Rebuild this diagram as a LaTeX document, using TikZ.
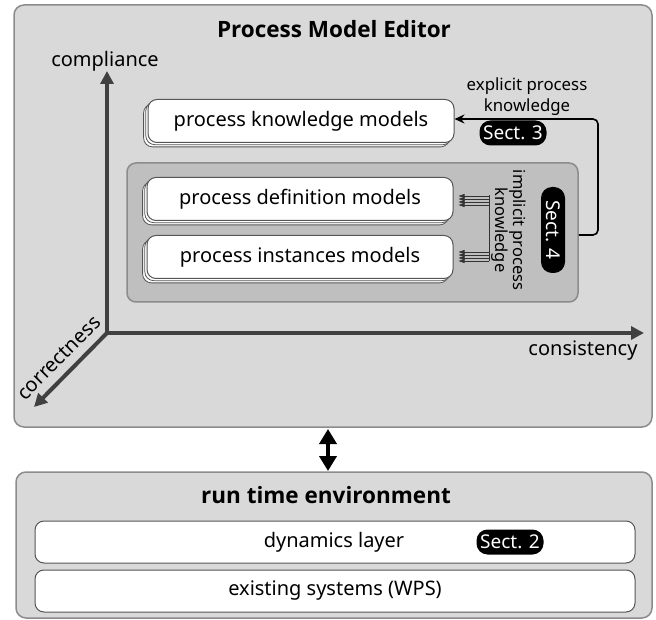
\documentclass[tikz,border=0pt]{standalone}
\usepackage{fontspec}
\setmainfont{Noto Sans}
\newfontfamily\headfont{Open Sans}
\usetikzlibrary{arrows.meta,shadows}

\definecolor{panelfill}{HTML}{D9D9D9}
\definecolor{panelline}{HTML}{8C8C8C}
\definecolor{innerfill}{HTML}{BFBFBF}
\definecolor{axisgray}{HTML}{404040}
\definecolor{boxline}{HTML}{555555}

\tikzset{
  panel/.style={draw=panelline, fill=panelfill, line width=1.5pt, rounded corners=10pt, inner sep=0pt},
  innerpanel/.style={draw=panelline, fill=innerfill, line width=1.5pt, rounded corners=9pt, inner sep=0pt},
  layer/.style={draw=boxline, fill=white, line width=1pt, rounded corners=9pt, inner sep=0pt,
    minimum width=600pt, minimum height=42pt},
  model/.style={draw=boxline, fill=white, line width=1pt, rounded corners=9pt, inner sep=0pt,
    minimum width=306pt, minimum height=43pt, font=\fontsize{20}{24}\selectfont,
    double copy shadow={shadow xshift=-2.2pt, shadow yshift=-2.2pt, draw=boxline, fill=white, line width=0.8pt}},
  heading/.style={font=\headfont\bfseries\fontsize{22.5}{26}\selectfont},
  label/.style={font=\fontsize{20}{24}\selectfont},
  sect/.style={fill=black, text=white, rounded corners=11pt, inner sep=0pt,
    minimum width=67pt, minimum height=25pt, font=\fontsize{19}{22}\selectfont},
  axis/.style={draw=axisgray, line width=4pt, -{Triangle[length=13pt,width=13pt]}},
  link/.style={draw=black, line width=1.6pt, rounded corners=5pt, -{Stealth[length=10pt,width=9pt]}},
  thin/.style={draw=black!80, line width=0.6pt},
  tiny/.style={draw=black!80, line width=0.6pt, -{Triangle[length=6pt,width=4pt]}},
  dbl/.style={draw=black, line width=4pt, {Triangle[length=15pt,width=17pt]}-{Triangle[length=15pt,width=17pt]}}
}

\begin{document}
\begin{tikzpicture}[x=1pt, y=-1pt]
\useasboundingbox (0,0) rectangle (656,620);

% upper panel: process model editor
\node[panel, minimum width=638pt, minimum height=422pt] (pme) at (333,216) {};
\node[heading] (pmetitle) at (334,29) {Process Model Editor};

% three quality axes
\coordinate (origin) at (107,333);
\coordinate (ytip) at (107,71);
\coordinate (xtip) at (644,333);
\coordinate (ztip) at (34,407);
\draw[axis] (origin) -- (ytip);
\draw[axis] (origin) -- (xtip);
\draw[axis] (origin) -- (ztip);
\node[label] (compl) at (105,61) {compliance};
\node[label] (consist) at (583,351) {consistency};
\node[label, rotate=45, inner sep=0pt] (correct) at (59,358) {correctness};

% explicit knowledge
\node[model] (know) at (301,121) {process knowledge models};
\node[label, align=center, font=\fontsize{16.8}{21}\selectfont] (explicit) at (527,97) {explicit process\\knowledge};
\node[sect] (s3) at (513,133) {Sect. 3};

% implicit knowledge
\node[innerpanel, minimum width=451pt, minimum height=139pt] (inner) at (352.5,232.5) {};
\node[model] (def) at (300,199) {process definition models};
\node[model] (inst) at (300,257) {process instances models};
\node[label, rotate=-90, align=center, font=\fontsize{16.5}{18}\selectfont] (implicit) at (509,230) {implicit process\\knowledge};
\node[sect, rotate=-90, minimum width=86pt, minimum height=24pt] (s4) at (553,230) {Sect. 4};

% bundled arrows into the two models
\coordinate (bt) at (489,195.5);
\coordinate (bb) at (489,261);
\draw[thin] (bt) -- (bb);
\foreach \d [count=\i] in {-4.5,-1.5,1.5,4.5} {
  \coordinate (bd\i) at (489,{200.5+\d});
  \coordinate (bi\i) at (489,{256.5+\d});
  \draw[tiny, shorten >=5pt] (bd\i) -- (def.east |- bd\i);
  \draw[tiny, shorten >=5pt] (bi\i) -- (inst.east |- bi\i);
}

% from implicit to explicit knowledge
\coordinate (ex0) at (inner.east |- 0,235);
\coordinate (ex1) at (598,119);
\draw[link] (ex0) -| (ex1) -- (know.east |- ex1);

% lower panel: run time environment
\node[panel, minimum width=636pt, minimum height=146pt] (rte) at (334,545) {};
\node[heading] (rtetitle) at (326,495) {run time environment};
\node[layer] (dyn) at (335,542) {};
\node[label] (dyntext) at (334,542) {dynamics layer};
\node[sect] (s2) at (510,542) {Sect. 2};
\node[layer, font=\fontsize{20}{24}\selectfont] (wps) at (335,591) {existing systems (WPS)};

% coupling between editor and runtime
\coordinate (da) at (328,429);
\coordinate (db) at (328,471);
\draw[dbl] (da) -- (db);
\end{tikzpicture}
\end{document}
